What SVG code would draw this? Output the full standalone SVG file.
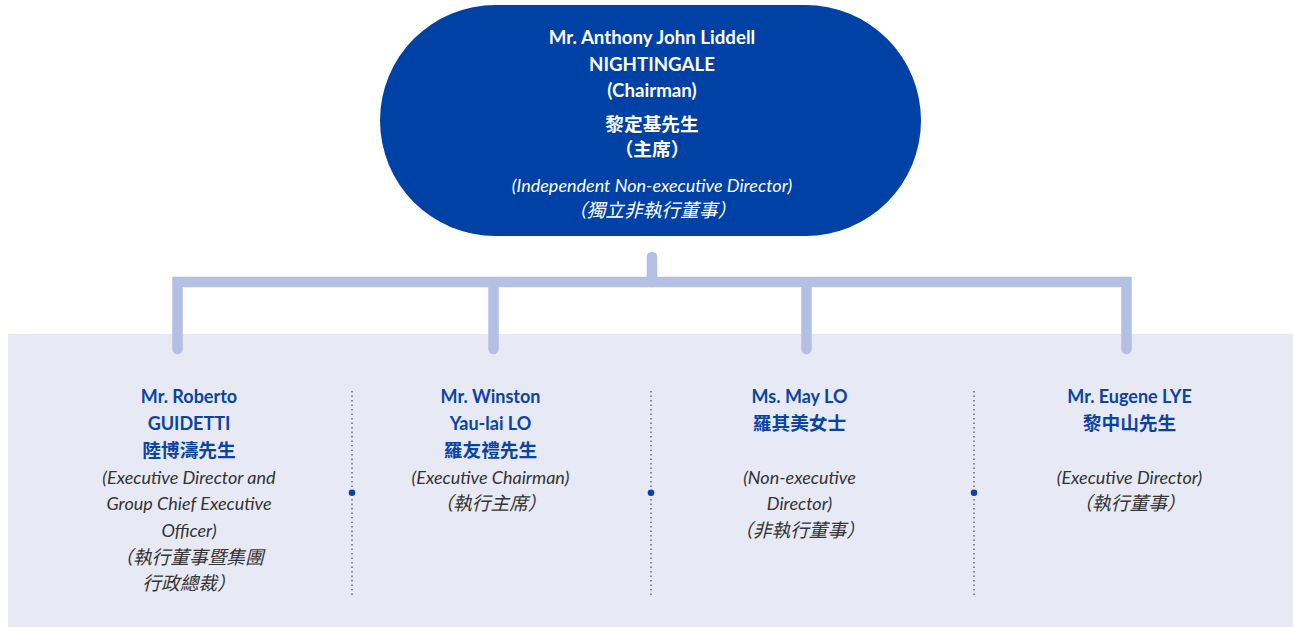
<svg xmlns="http://www.w3.org/2000/svg" width="1293" height="627" viewBox="0 0 1293 627">
<style>
.t{font-family:Lato,"Noto Sans CJK TC","Noto Sans",sans-serif;text-anchor:middle;font-size:18px}
.c{font-size:18.7px}
.w{fill:#ffffff;font-weight:700}
.wl{font-size:18.7px}
.wi{fill:#ffffff;font-style:italic}
.b{fill:#0a43a8;font-weight:700}
.i{fill:#333333;font-style:italic}
.conn{fill:none;stroke:#b3c0e4;stroke-width:10.5;stroke-linecap:round;stroke-linejoin:miter}
.sep{stroke:#555555;stroke-width:1.3;stroke-dasharray:1.5 3}
.dot{fill:#0a43a8}
</style>
<rect x="0" y="0" width="1293" height="627" fill="#ffffff"/>
<rect id="panel" x="8" y="334" width="1285" height="293" fill="#e7e9f5"/>
<g id="connectors">
<path class="conn" d="M652,257 V282"/>
<path class="conn" d="M177.5,349 V282 H1126.5 V349"/>
<path class="conn" d="M493.5,282 V349"/>
<path class="conn" d="M806.5,282 V349"/>
</g>
<g id="separators">
<line class="sep" x1="352" y1="391" x2="352" y2="596"/>
<line class="sep" x1="651" y1="391" x2="651" y2="596"/>
<line class="sep" x1="974" y1="391" x2="974" y2="596"/>
<circle class="dot" cx="352" cy="492.7" r="3.3"/>
<circle class="dot" cx="651" cy="492.7" r="3.3"/>
<circle class="dot" cx="974" cy="492.7" r="3.3"/>
</g>
<g id="chairman">
<rect x="380" y="5" width="541" height="231" rx="115.5" ry="115.5" fill="#0041a5"/>
<text class="t w wl" x="652" y="44">Mr. Anthony John Liddell</text>
<text class="t w wl" x="652" y="71">NIGHTINGALE</text>
<text class="t w wl" x="652" y="96.5">(Chairman)</text>
<text class="t w c" x="652" y="131">黎定基先生</text>
<text class="t w c" x="652" y="156">（主席）</text>
<text class="t wi" x="652" y="192">(Independent Non-executive Director)</text>
<text class="t wi c" x="652" y="217">（獨立非執行董事）</text>
</g>
<g id="guidetti">
<text class="t b" x="189" y="403">Mr. Roberto</text>
<text class="t b" x="189" y="430">GUIDETTI</text>
<text class="t b c" x="189" y="456.5">陸博濤先生</text>
<text class="t i" x="189" y="483.5">(Executive Director and</text>
<text class="t i" x="189" y="510">Group Chief Executive</text>
<text class="t i" x="189" y="537">Officer)</text>
<text class="t i c" x="189" y="563.5">（執行董事暨集團</text>
<text class="t i c" x="189" y="590">行政總裁）</text>
</g>
<g id="winston">
<text class="t b" x="490.5" y="403">Mr. Winston</text>
<text class="t b" x="490.5" y="430">Yau-lai LO</text>
<text class="t b c" x="490.5" y="456.5">羅友禮先生</text>
<text class="t i" x="490.5" y="483.5">(Executive Chairman)</text>
<text class="t i c" x="490.5" y="510">（執行主席）</text>
</g>
<g id="may">
<text class="t b" x="799.5" y="403">Ms. May LO</text>
<text class="t b c" x="799.5" y="430">羅其美女士</text>
<text class="t i" x="799.5" y="483.5">(Non-executive</text>
<text class="t i" x="799.5" y="510">Director)</text>
<text class="t i c" x="799.5" y="537">（非執行董事）</text>
</g>
<g id="eugene">
<text class="t b" x="1129.5" y="403">Mr. Eugene LYE</text>
<text class="t b c" x="1129.5" y="430">黎中山先生</text>
<text class="t i" x="1129.5" y="483.5">(Executive Director)</text>
<text class="t i c" x="1129.5" y="510">（執行董事）</text>
</g>
</svg>
